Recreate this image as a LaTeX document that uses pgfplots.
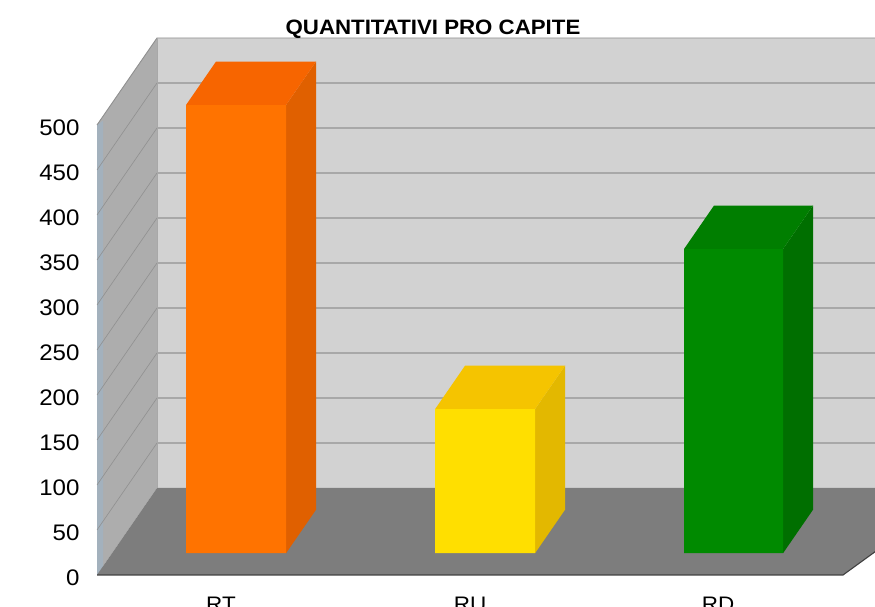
\documentclass[border=0pt]{standalone}
\usepackage{fontspec}
\setmainfont[FakeStretch=1.07]{Liberation Sans}
\usepackage{pgfplots}
\pgfplotsset{compat=1.18}
\definecolor{wallback}{HTML}{D2D2D2}
\definecolor{wallside}{HTML}{ADADAD}
\definecolor{floorc}{HTML}{7D7D7D}
\definecolor{gridc}{HTML}{A8A8A8}
\definecolor{gridd}{HTML}{909090}
\definecolor{edgeb}{HTML}{A3B1BD}
\definecolor{oF}{HTML}{FF7300}\definecolor{oT}{HTML}{F76500}\definecolor{oS}{HTML}{E06000}
\definecolor{yF}{HTML}{FFDF00}\definecolor{yT}{HTML}{F5C400}\definecolor{yS}{HTML}{E3B800}
\definecolor{gF}{HTML}{008A00}\definecolor{gT}{HTML}{007E00}\definecolor{gS}{HTML}{006F00}
\begin{document}
\begin{tikzpicture}
\begin{axis}[
  anchor=origin, at={(97pt,32pt)},
  x={(1pt,0pt)}, y={(60pt,87pt)}, z={(0pt,0.9pt)},
  xmin=0, xmax=806, ymin=0, ymax=1, zmin=0, zmax=500,
  clip=false,
  axis line style={draw=none}, tick style={draw=none},
  xtick={124,373,621}, xticklabels={RT,RU,RD}, ytick=\empty,
  ztick={0,50,...,500},
  /pgf/number format/assume math mode=true,
  ticklabel style={font=\fontsize{22.5}{24}\selectfont},
  z tick label style={anchor=east, xshift=-14pt, yshift=-2.5pt},
  x tick label style={anchor=north, yshift=-19pt, font=\fontsize{21}{24}\selectfont},
  title={\bfseries QUANTITATIVI PRO CAPITE},
  title style={font=\fontsize{20.8}{22}\selectfont, at={(axis cs:336,0,600)}, anchor=center},
  no markers,
]
% walls and floor
\addplot3[fill=wallback,draw=none] coordinates {(0,1,0)(806,1,0)(806,1,500)(0,1,500)(0,1,0)};
\addplot3[fill=wallside,draw=none] coordinates {(0,0,0)(0,1,0)(0,1,500)(0,0,500)(0,0,0)};
\addplot3[fill=edgeb,draw=none] coordinates {(0,0,0)(3,0.05,0)(3,0.05,500)(0,0,500)(0,0,0)};
\addplot3[fill=floorc,draw=none] coordinates {(0,0,0)(746,0,0)(806,1,0)(0,1,0)(0,0,0)};
% grid
\foreach \v in {50,100,...,450}{
  \edef\temp{\noexpand\addplot3[gridc,line width=1.3pt] coordinates {(0,1,\v)(806,1,\v)};
  \noexpand\addplot3[gridd,line width=0.6pt] coordinates {(0,0,\v)(0,1,\v)};}
  \temp
}
\addplot3[gridd,line width=0.9pt] coordinates {(0,0,500)(0,1,500)(806,1,500)};
\addplot3[gridc,line width=1pt] coordinates {(0,1,0)(0,1,500)};
\addplot3[black!75,line width=1.1pt] coordinates {(0,0,0)(746,0,0)(806,1,0)};
% RT
\addplot3[fill=oS,draw=none] coordinates {(174,0.25,0)(174,0.75,0)(174,0.75,498)(174,0.25,498)(174,0.25,0)};
\addplot3[fill=oT,draw=none] coordinates {(74,0.25,498)(174,0.25,498)(174,0.75,498)(74,0.75,498)(74,0.25,498)};
\addplot3[fill=oF,draw=none] coordinates {(74,0.25,0)(174,0.25,0)(174,0.25,498)(74,0.25,498)(74,0.25,0)};
% RU
\addplot3[fill=yS,draw=none] coordinates {(423,0.25,0)(423,0.75,0)(423,0.75,160)(423,0.25,160)(423,0.25,0)};
\addplot3[fill=yT,draw=none] coordinates {(323,0.25,160)(423,0.25,160)(423,0.75,160)(323,0.75,160)(323,0.25,160)};
\addplot3[fill=yF,draw=none] coordinates {(323,0.25,0)(423,0.25,0)(423,0.25,160)(323,0.25,160)(323,0.25,0)};
% RD
\addplot3[fill=gS,draw=none] coordinates {(671,0.25,0)(671,0.75,0)(671,0.75,338)(671,0.25,338)(671,0.25,0)};
\addplot3[fill=gT,draw=none] coordinates {(572,0.25,338)(671,0.25,338)(671,0.75,338)(572,0.75,338)(572,0.25,338)};
\addplot3[fill=gF,draw=none] coordinates {(572,0.25,0)(671,0.25,0)(671,0.25,338)(572,0.25,338)(572,0.25,0)};
\end{axis}
\pgfresetboundingbox
\path[use as bounding box] (0,0) rectangle (875pt,607pt);
\end{tikzpicture}
\end{document}
